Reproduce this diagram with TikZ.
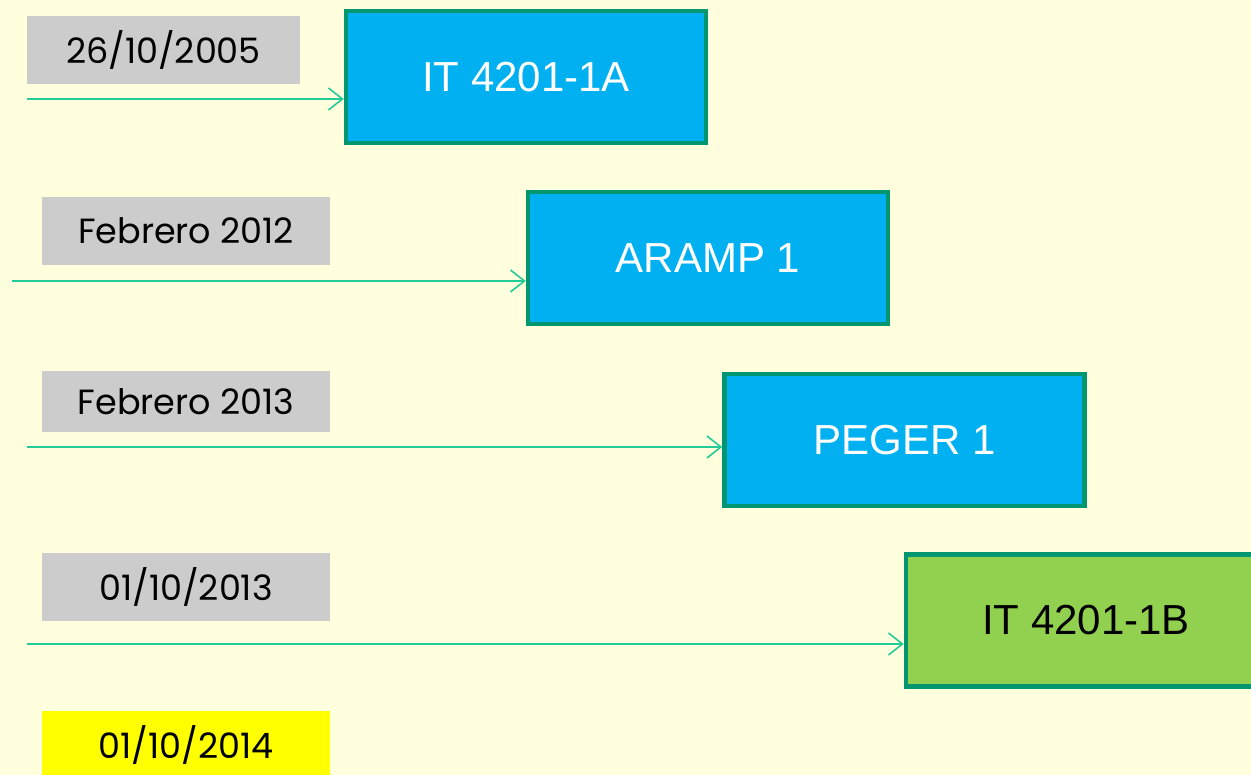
\documentclass[tikz,border=0pt]{standalone}
\usepackage{fontspec}
\setmainfont{Liberation Sans}
\newfontfamily\datefont{Poppins}
\usepackage{tikz}
\usetikzlibrary{arrows.meta}
\usepackage{xcolor}
\definecolor{fondo}{HTML}{FFFFDD}
\definecolor{gris}{HTML}{CCCCCC}
\definecolor{amarillo}{HTML}{FFFF00}
\definecolor{azul}{HTML}{00B0F0}
\definecolor{verde}{HTML}{92D050}
\definecolor{borde}{HTML}{009670}
\definecolor{flecha}{HTML}{22CC99}

\tikzset{
  fecha/.style={fill=gris, minimum width=288pt, minimum height=68pt, inner sep=0pt,
    font=\datefont\fontsize{35}{40}\selectfont},
  hito/.style={draw=borde, line width=4.5pt, fill=azul, text=white, minimum width=360pt,
    minimum height=132pt, inner sep=0pt, font=\fontsize{42}{48}\selectfont},
  linea/.style={flecha, line width=1.6pt, -{Straight Barb[length=14pt, width=22pt, line width=1.6pt]}}
}

\begin{document}
\begin{tikzpicture}[x=1pt, y=-1pt]
\useasboundingbox (0,0) rectangle (1251,775);
\fill [fondo] (0,0) rectangle (1251,775);

% fechas
\node [fecha, minimum width=273pt] (d1) at (163.5,50) {26/10/2005};
\node [fecha] (d2) at (186,231) {Febrero 2012};
\node [fecha, minimum height=61pt] (d3) at (186,401.5) {Febrero 2013};
\node [fecha] (d4) at (186,587) {01/10/2013};
\node [fecha, fill=amarillo] (d5) at (186,745) {01/10/2014};

% hitos
\node [hito] (b1) at (526,77) {IT 4201-1A};
\node [hito] (b2) at (708,258) {ARAMP 1};
\node [hito] (b3) at (904.5,440) {PEGER 1};
\node [hito, fill=verde, text=black] (b4) at (1086,620.5) {IT 4201-1B};

% flechas
\coordinate (s1) at (27,99);
\coordinate (s2) at (12,281);
\coordinate (s3) at (27,447);
\coordinate (s4) at (27,644);
\draw [linea] (s1) -- (s1 -| b1.west);
\draw [linea] (s2) -- (s2 -| b2.west);
\draw [linea] (s3) -- (s3 -| b3.west);
\draw [linea] (s4) -- (s4 -| b4.west);
\end{tikzpicture}
\end{document}
